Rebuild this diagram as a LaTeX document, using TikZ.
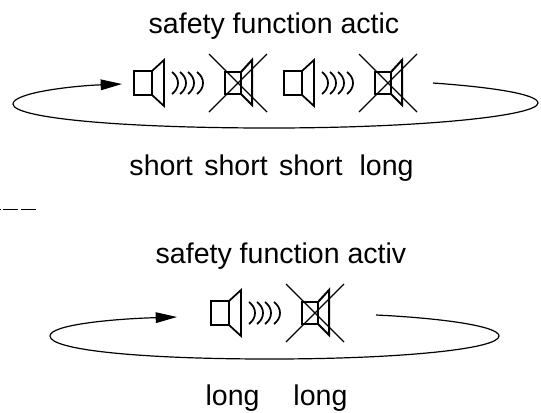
\documentclass[tikz,border=0pt]{standalone}
\usepackage{fontspec}
\setmainfont{Liberation Sans}
\usetikzlibrary{arrows.meta}
\tikzset{
  lbl/.style={font=\fontsize{21.4}{25}\selectfont, inner sep=0pt, anchor=base},
  loopline/.style={line width=0.9pt},
  pics/horn/.style={code={
    \draw[line width=1.3pt, line join=miter] (0,-12) rectangle (18,12);
    \draw[line width=1.3pt, line join=miter] (18,-12) -- (30,-23) -- (30,23) -- (18,12);
    \foreach \wx in {38,46,54,63}
      \draw[line width=1.3pt] (\wx,-11) .. controls (\wx+8,-5) and (\wx+8,5) .. (\wx,11);
  }},
  pics/mutedhorn/.style={code={
    \draw[line width=1.5pt, line join=miter] (0,-11) rectangle (16,11);
    \draw[line width=1.5pt, line join=miter] (16,-11) -- (27,-23) -- (27,22) -- (16,11);
    \draw[line width=0.9pt] (-16,-29) -- (42,29);
    \draw[line width=0.9pt] (-16,29) -- (42,-29);
  }}
}
\begin{document}
\begin{tikzpicture}[x=0.75pt,y=-0.75pt]
  \useasboundingbox (0,0) rectangle (541,412);
  % upper part
  \node[lbl] (titleA) at (274,33) {safety function actic};
  \pic at (134,83) {horn};
  \pic at (225,83) {mutedhorn};
  \pic at (284,83) {horn};
  \pic at (375,83) {mutedhorn};
  \coordinate (startA) at (433,83);
  \coordinate (endA) at (122,84);
  \draw[loopline, -{Stealth[inset=0pt,length=16pt,width=8pt]}] (startA)
    .. controls (490,87) and (538,94) .. (538,103)
    .. controls (538,116) and (420,128) .. (270,128)
    .. controls (120,128) and (13,118) .. (13,104)
    .. controls (13,93) and (70,86) .. (endA);
  \node[lbl] (timesA) at (271.5,175) {short\hspace{2.6pt} short\hspace{2.6pt} short\hspace{6.8pt} long};
  % separator
  \coordinate (sepL) at (0,209.7);
  \coordinate (sepR) at (36.5,209.7);
  \draw[line width=1pt, dash pattern=on 11.6pt off 1.9pt, dash phase=11.25pt] (sepL) -- (sepR);
  % lower part
  \node[lbl] (titleB) at (281,263) {safety function activ};
  \pic at (211,313) {horn};
  \pic at (302,313) {mutedhorn};
  \coordinate (startB) at (376,315);
  \coordinate (endB) at (177,317);
  \draw[loopline, -{Stealth[inset=0pt,length=16pt,width=8pt]}] (startB)
    .. controls (440,318) and (499,326) .. (499,336)
    .. controls (499,349) and (400,359) .. (270,359)
    .. controls (140,359) and (50,350) .. (50,336)
    .. controls (50,325) and (110,319) .. (endB);
  \node[lbl] (timesB) at (276.5,405) {long\hspace{19.5pt} long};
\end{tikzpicture}
\end{document}
